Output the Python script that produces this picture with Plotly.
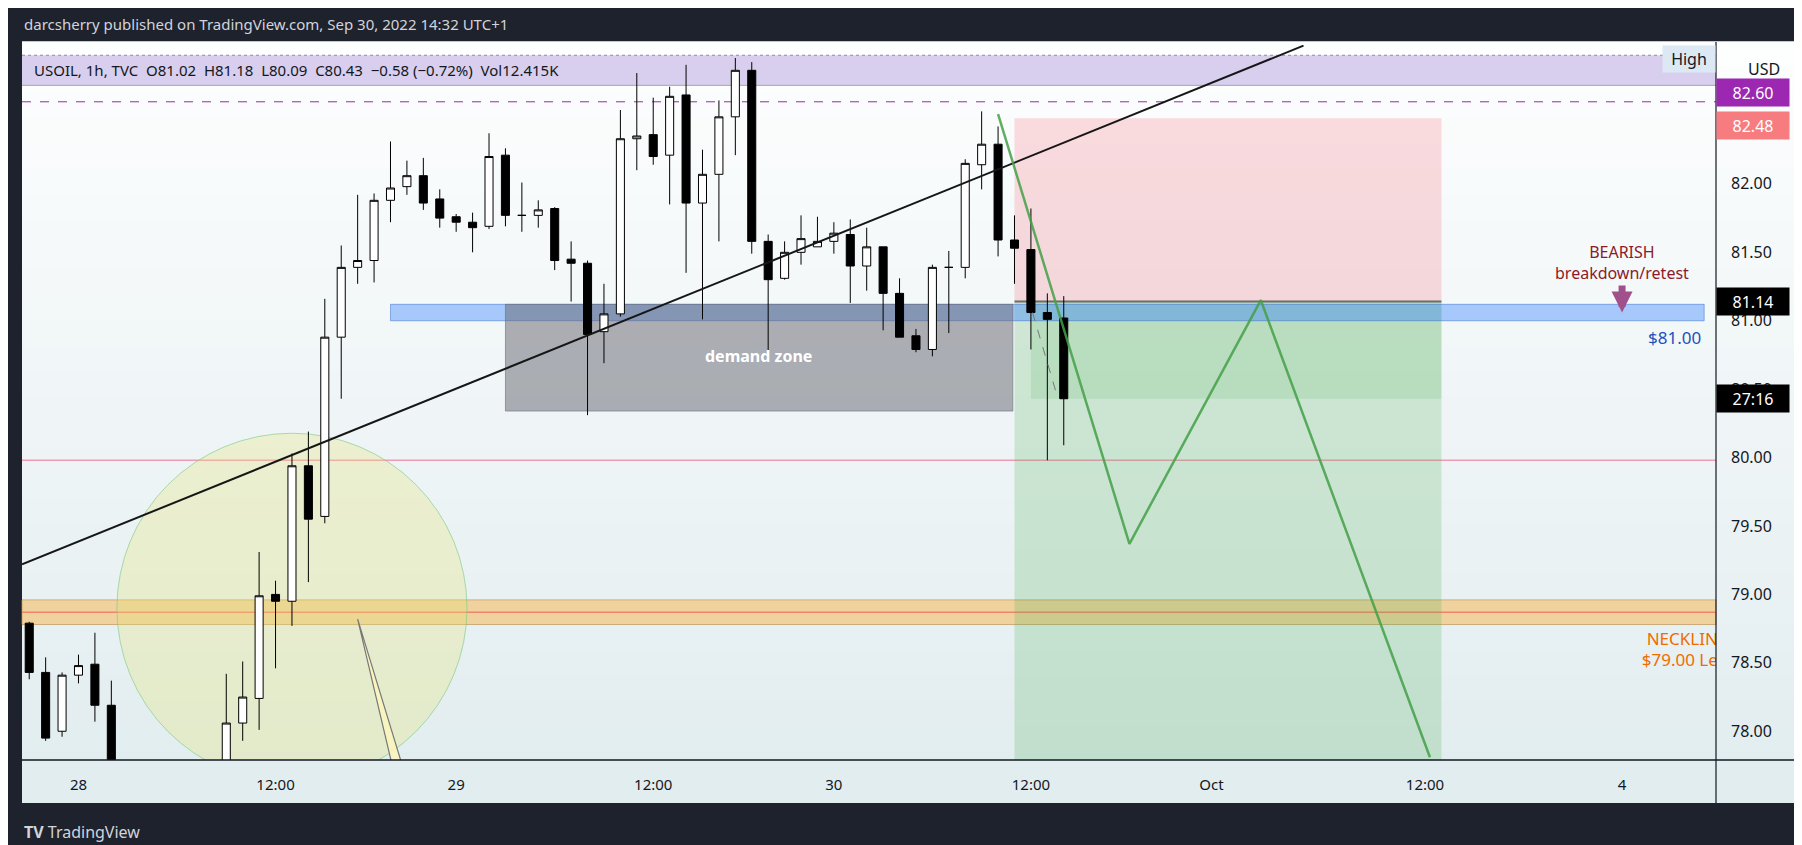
import plotly.graph_objects as go

# hourly USOIL candles (bar index, O/H/L/C)
bar_idx = [0, 1, 2, 3, 4, 5] + list(range(12, 64))
opens = [78.79, 78.43, 78.00, 78.41, 78.49, 78.19,
         77.70, 78.06, 78.24, 79.00, 78.95, 79.94, 79.57, 80.88, 81.39, 81.44, 81.88, 81.98, 82.06,
         81.89, 81.76, 81.72, 81.69, 82.21, 81.77, 81.77, 81.82, 81.45, 81.42, 80.92, 81.05, 82.33,
         82.36, 82.21, 82.65, 81.86, 82.07, 82.49, 82.83, 81.58, 81.31, 81.50, 81.54, 81.58, 81.63,
         81.40, 81.54, 81.20, 80.89, 80.79, 81.39, 81.39, 82.14, 82.29, 81.59, 81.52, 81.06, 81.02]
highs = [78.80, 78.54, 78.43, 78.56, 78.72, 78.37,
         78.42, 78.51, 79.31, 79.10, 80.03, 80.19, 81.16, 81.55, 81.92, 81.93, 82.31, 82.17, 82.19,
         81.96, 81.78, 81.79, 82.37, 82.26, 82.01, 81.88, 81.83, 81.58, 81.44, 81.27, 82.54, 82.81,
         82.63, 82.71, 82.87, 82.25, 82.61, 82.92, 82.89, 81.63, 81.58, 81.77, 81.76, 81.72, 81.74,
         81.68, 81.54, 81.31, 80.94, 81.41, 81.51, 82.18, 82.53, 82.42, 81.77, 81.82, 81.20, 81.18]
lows = [78.38, 77.93, 77.96, 78.35, 78.07, 77.66,
        77.65, 77.93, 78.01, 78.46, 78.77, 79.09, 79.52, 80.43, 81.27, 81.28, 81.72, 81.92, 81.81,
        81.68, 81.65, 81.50, 81.67, 81.69, 81.65, 81.68, 81.37, 81.14, 80.31, 80.69, 81.03, 82.10,
        82.14, 81.85, 81.35, 81.01, 81.58, 82.21, 81.49, 80.77, 81.30, 81.41, 81.54, 81.49, 81.13,
        81.22, 80.93, 80.88, 80.77, 80.74, 80.91, 81.31, 81.96, 81.47, 81.27, 80.79, 79.98, 80.09]
closes = [78.43, 77.95, 78.41, 78.48, 78.19, 77.73,
          78.06, 78.25, 78.99, 78.95, 79.94, 79.55, 80.88, 81.39, 81.44, 81.88, 81.97, 82.06, 81.86,
          81.75, 81.72, 81.68, 82.20, 81.77, 81.77, 81.81, 81.44, 81.42, 80.90, 81.05, 82.33, 82.35,
          82.20, 82.64, 81.86, 82.07, 82.49, 82.83, 81.58, 81.30, 81.50, 81.60, 81.58, 81.64, 81.40,
          81.54, 81.20, 80.88, 80.79, 81.39, 81.39, 82.15, 82.29, 81.59, 81.53, 81.06, 81.01, 80.43]

tick_pos = [3, 15, 26, 38, 49, 61, 72, 85, 97]
tick_text = ['28', '12:00', '29', '12:00', '30', '12:00', 'Oct', '12:00', '4']
price_ticks = [78.0, 78.5, 79.0, 79.5, 80.0, 80.5, 81.0, 81.5, 82.0]

# drawing levels
trend_x, trend_y = [-0.44, 77.6], [79.22, 83.01]
zig_x, zig_y = [59.0, 67.0, 75.0, 85.3], [82.51, 79.37, 81.15, 77.81]
stop_lvl, entry_lvl, cur_lvl = 82.48, 81.14, 80.43
pos_x0, pos_x1 = 60.0, 86.0
blue_zone = (22.0, 102.0, 81.00, 81.12)
demand_zone = (29.0, 59.9, 80.34, 81.12)
neck_zone = (78.78, 78.96, 78.87)
pink_lvl = 79.98
high_band = (82.72, 82.94)
high_dash = 82.60
circle_c, circle_r = (16.0, 78.90), (10.66, 1.278)

XR = [-0.44, 102.72]
YR = [77.79, 83.015]
FONT = 'Noto Sans'

fig = go.Figure()

fig.add_trace(go.Candlestick(
    x=bar_idx, open=opens, high=highs, low=lows, close=closes,
    increasing=dict(line=dict(color='black', width=1), fillcolor='white'),
    decreasing=dict(line=dict(color='black', width=1), fillcolor='black'),
    whiskerwidth=0, hoverinfo='skip', showlegend=False))

fig.add_trace(go.Scatter(x=trend_x, y=trend_y, mode='lines',
                         line=dict(color='#161616', width=2), hoverinfo='skip', showlegend=False))
fig.add_trace(go.Scatter(x=zig_x, y=zig_y, mode='lines',
                         line=dict(color='rgba(67,160,71,0.85)', width=2.5), hoverinfo='skip', showlegend=False))
fig.add_trace(go.Scatter(x=[61.1, 62.6], y=[81.06, 80.45], mode='lines',
                         line=dict(color='#777', width=1, dash='dash'), hoverinfo='skip', showlegend=False))
# clipped neckline labels
fig.add_trace(go.Scatter(x=[98.5], y=[78.66], mode='text', text=['NECKLINE'], textposition='middle right',
                         textfont=dict(color='#ef6c00', size=17, family=FONT), cliponaxis=True,
                         hoverinfo='skip', showlegend=False))
fig.add_trace(go.Scatter(x=[98.2], y=[78.51], mode='text', text=['$79.00 Level'], textposition='middle right',
                         textfont=dict(color='#ef6c00', size=17, family=FONT), cliponaxis=True,
                         hoverinfo='skip', showlegend=False))

shapes = []
# background gradient over plot + axis panel
n = 30
top_c, bot_c = (253, 254, 254), (226, 237, 240)
y_lo, y_hi = -0.060, 1.0042
for k in range(n):
    t = k / (n - 1)
    c = tuple(int(top_c[j] + (bot_c[j] - top_c[j]) * t) for j in range(3))
    shapes.append(dict(type='rect', xref='paper', yref='paper', x0=0, x1=1.0467,
                       y0=y_hi - (k + 1) * (y_hi - y_lo) / n, y1=y_hi - k * (y_hi - y_lo) / n + 0.001,
                       fillcolor='rgb(%d,%d,%d)' % c, line_width=0, layer='below'))

# high band and dashed line
shapes.append(dict(type='rect', xref='paper', yref='y', x0=0, x1=1, y0=high_band[0], y1=high_band[1],
                   fillcolor='rgba(149,117,205,0.35)', line_width=0, layer='below'))
shapes.append(dict(type='line', xref='paper', yref='y', x0=0, x1=1, y0=high_band[1], y1=high_band[1],
                   line=dict(color='#8f88a8', width=1, dash='dot'), layer='below'))
shapes.append(dict(type='line', xref='paper', yref='y', x0=0, x1=1, y0=high_band[0], y1=high_band[0],
                   line=dict(color='#aaa2c4', width=1), layer='below'))
shapes.append(dict(type='line', xref='paper', yref='y', x0=0, x1=1, y0=high_dash, y1=high_dash,
                   line=dict(color='#9c27b0', width=1, dash='dash'), layer='below'))

# yellow circle + narrow callout
shapes.append(dict(type='circle', xref='x', yref='y',
                   x0=circle_c[0] - circle_r[0], x1=circle_c[0] + circle_r[0],
                   y0=circle_c[1] - circle_r[1], y1=circle_c[1] + circle_r[1],
                   fillcolor='rgba(230,230,120,0.30)', line=dict(color='rgba(120,200,130,0.6)', width=1),
                   layer='below'))
shapes.append(dict(type='path', xref='x', yref='y', path='M 20.0 78.82 L 22.4 77.6 L 23.1 77.6 Z',
                   fillcolor='rgba(250,245,190,0.9)', line=dict(color='#777', width=1.2), layer='below'))

# levels
shapes.append(dict(type='line', xref='paper', yref='y', x0=0, x1=1, y0=pink_lvl, y1=pink_lvl,
                   line=dict(color='#f09ab4', width=1.5), layer='below'))
shapes.append(dict(type='rect', xref='paper', yref='y', x0=0, x1=1, y0=neck_zone[0], y1=neck_zone[1],
                   fillcolor='rgba(255,152,0,0.35)', line=dict(color='rgba(190,150,90,0.7)', width=1),
                   layer='below'))
shapes.append(dict(type='line', xref='paper', yref='y', x0=0, x1=1, y0=neck_zone[2], y1=neck_zone[2],
                   line=dict(color='#f2836b', width=1.5), layer='below'))

# position tool
shapes.append(dict(type='rect', x0=pos_x0, x1=pos_x1, y0=entry_lvl, y1=stop_lvl,
                   fillcolor='rgba(242,54,69,0.17)', line_width=0, layer='below'))
shapes.append(dict(type='rect', x0=pos_x0, x1=pos_x1, y0=77.0, y1=entry_lvl,
                   fillcolor='rgba(76,175,80,0.22)', line_width=0, layer='below'))
shapes.append(dict(type='rect', x0=pos_x0 + 1, x1=pos_x1, y0=cur_lvl, y1=entry_lvl,
                   fillcolor='rgba(76,175,80,0.15)', line_width=0, layer='below'))
shapes.append(dict(type='line', x0=pos_x0, x1=pos_x1, y0=entry_lvl, y1=entry_lvl,
                   line=dict(color='#6b6b6b', width=2), layer='below'))

# blue and demand zones
shapes.append(dict(type='rect', x0=blue_zone[0], x1=blue_zone[1], y0=blue_zone[2], y1=blue_zone[3],
                   fillcolor='rgba(41,121,255,0.38)', line=dict(color='rgba(41,98,200,0.45)', width=1),
                   layer='below'))
shapes.append(dict(type='rect', x0=demand_zone[0], x1=demand_zone[1], y0=demand_zone[2], y1=demand_zone[3],
                   fillcolor='rgba(100,100,110,0.5)', line=dict(color='rgba(110,110,120,0.6)', width=1),
                   layer='below'))

# panel frame lines
shapes.append(dict(type='line', xref='paper', yref='paper', x0=1, x1=1, y0=y_lo, y1=y_hi,
                   line=dict(color='#131722', width=1.2)))
shapes.append(dict(type='line', xref='paper', yref='paper', x0=0, x1=1.0467, y0=0, y1=0,
                   line=dict(color='#131722', width=1.5)))

ann = []
ann.append(dict(xref='paper', yref='paper', x=0.006, y=0.965, xanchor='left', yanchor='middle',
                text='USOIL, 1h, TVC  O81.02  H81.18  L80.09  C80.43  \u22120.58 (\u22120.72%)  Vol12.415K',
                showarrow=False, font=dict(color='#131722', size=15, family=FONT)))
ann.append(dict(x=44.4, y=80.74, text='<b>demand zone</b>', showarrow=False,
                font=dict(color='white', size=16, family=FONT)))
ann.append(dict(x=97.0, y=81.06, ax=0, ay=-50, text='BEARISH<br>breakdown/retest',
                showarrow=True, arrowhead=2, arrowwidth=7, arrowsize=0.6, arrowcolor='#a0508a',
                font=dict(color='#8b1a2a', size=16, family=FONT)))
ann.append(dict(x=101.9, y=80.88, xanchor='right', text='$81.00', showarrow=False,
                font=dict(color='#1f4fbf', size=17, family=FONT)))

for lvl, txt, bg, sh in [(high_dash, '82.60', '#9c27b0', 9), (stop_lvl, '82.48', '#f77c80', -7),
                         (entry_lvl, '81.14', '#000000', 0), (cur_lvl, '27:16', '#000000', 0)]:
    ann.append(dict(xref='paper', yref='y', x=1, y=lvl, xanchor='left', yshift=sh, text=txt, showarrow=False,
                    bgcolor=bg, width=70, height=25, font=dict(color='white', size=16, family=FONT)))

ann.append(dict(xref='paper', yref='paper', x=1.018, y=0.985, xanchor='left', text='USD', showarrow=False,
                font=dict(color='#131722', size=16, family=FONT)))
ann.append(dict(xref='paper', yref='paper', x=1.0, y=1.0, xanchor='right', yanchor='top', text='High',
                showarrow=False, bgcolor='#dde8f5', width=50, height=24,
                font=dict(color='#131722', size=16, family=FONT)))
ann.append(dict(xref='paper', yref='paper', x=0.0, y=1.029, xanchor='left', yanchor='middle',
                text='darcsherry published on TradingView.com, Sep 30, 2022 14:32 UTC+1', showarrow=False,
                font=dict(color='#d1d4dc', size=15, family=FONT)))
ann.append(dict(xref='paper', yref='paper', x=0.0, y=-0.10, xanchor='left', yanchor='middle',
                text='<b>TV</b> TradingView', showarrow=False,
                font=dict(color='#d1d4dc', size=16, family=FONT)))

fig.update_layout(
    width=1802, height=845, autosize=False,
    margin=dict(l=14, r=94, t=37, b=93),
    paper_bgcolor='#1e222d', plot_bgcolor='rgba(0,0,0,0)',
    shapes=shapes, annotations=ann, showlegend=False, hovermode=False,
    xaxis=dict(range=XR, tickvals=tick_pos, ticktext=tick_text, showgrid=False, zeroline=False,
               rangeslider=dict(visible=False), ticks='', ticklabelstandoff=14,
               tickfont=dict(color='#131722', size=15, family=FONT)),
    yaxis=dict(range=YR, side='right', tickvals=price_ticks, tickformat='.2f', showgrid=False,
               zeroline=False, ticks='', ticklabelstandoff=14,
               tickfont=dict(color='#131722', size=16, family=FONT)),
)

fig.write_html('out.html')
